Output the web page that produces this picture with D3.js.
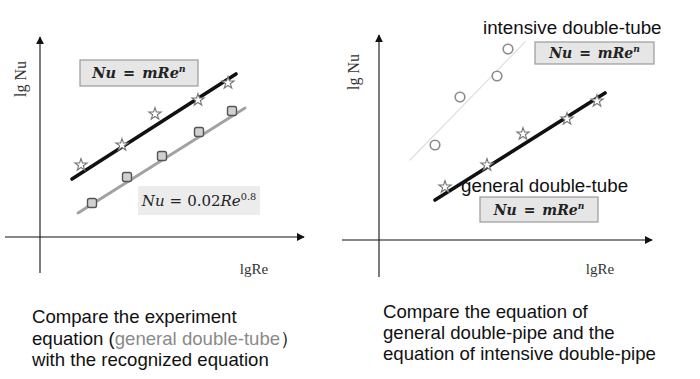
<!DOCTYPE html>
<html><head><meta charset="utf-8">
<script src="https://cdn.jsdelivr.net/npm/d3@7"></script>
<style>body{margin:0;background:#fff}svg{display:block}</style>
</head><body>
<svg id="c" width="700" height="379"></svg>
<script>
// ---- data (arbitrary lgRe / lgNu units) ----
const leftStarX   = [2.05, 4.1, 5.75, 7.9, 9.4];
const leftStarY   = [3.6, 4.6, 6.15, 6.85, 7.7];
const leftFitX    = [1.6, 9.8];
const leftFitY    = [2.9, 8.15];
const leftSquareX = [2.6, 4.35, 6.1, 7.95, 9.6];
const leftSquareY = [1.7, 3.0, 4.05, 5.25, 6.3];
const leftRefX    = [1.9, 10.25];
const leftRefY    = [1.2, 6.45];

const rightCircleX = [2.8, 4.05, 5.9, 6.45];
const rightCircleY = [4.75, 7.15, 8.2, 9.55];
const rightIntX    = [1.55, 7.3];
const rightIntY    = [4.0, 9.9];
const rightStarX   = [3.3, 5.4, 7.2, 9.4, 10.9];
const rightStarY   = [2.65, 3.75, 5.3, 6.05, 6.95];
const rightFitX    = [2.8, 11.3];
const rightFitY    = [2.0, 7.35];

const axisLabelX = "lgRe";
const axisLabelY = "lg Nu";
const captionLeft = ["Compare the experiment", ["equation (", "general double-tube", "）"], "with the recognized equation"];
const captionRight = ["Compare the equation of", "general double-pipe and the", "equation of intensive double-pipe"];

const svg = d3.select("#c");
const defs = svg.append("defs");
defs.append("marker").attr("id","arr").attr("viewBox","0 0 10 10").attr("refX",9).attr("refY",5)
  .attr("markerWidth",8).attr("markerHeight",8).attr("markerUnits","userSpaceOnUse").attr("orient","auto")
  .append("path").attr("d","M0,0L10,5L0,10z").attr("fill","#111");

const sans = "'Liberation Sans', Arial, sans-serif";
const serif = "'Liberation Serif', 'Times New Roman', serif";
const math = "'DejaVu Serif', serif";

function zip(a,b){return a.map((v,i)=>[v,b[i]]);}

function panel(x, y, xAxisEnds, yAxisEnds, labelYPos, labelXPos) {
  const g = svg.append("g");
  g.append("line").attr("x1",x(xAxisEnds[0])).attr("x2",x(xAxisEnds[1])).attr("y1",y(0)).attr("y2",y(0))
    .attr("stroke","#111").attr("stroke-width",1.1).attr("marker-end","url(#arr)");
  g.append("line").attr("x1",x(0)).attr("x2",x(0)).attr("y1",y(yAxisEnds[0])).attr("y2",y(yAxisEnds[1]))
    .attr("stroke","#111").attr("stroke-width",1.1).attr("marker-end","url(#arr)");
  g.append("text").attr("transform",`translate(${labelYPos[0]},${labelYPos[1]}) rotate(-90)`)
    .attr("text-anchor","middle").attr("dominant-baseline","central")
    .attr("font-family",serif).attr("font-size",16).attr("fill","#333").text(axisLabelY);
  g.append("text").attr("x",labelXPos[0]).attr("y",labelXPos[1])
    .attr("text-anchor","middle").attr("font-family",serif).attr("font-size",15).attr("fill","#333").text(axisLabelX);
  return g;
}

function fitLine(g, x, y, xs, ys, color, w) {
  g.append("path").datum(zip(xs,ys))
    .attr("d", d3.line().x(d=>x(d[0])).y(d=>y(d[1])))
    .attr("fill","none").attr("stroke",color).attr("stroke-width",w).attr("stroke-linecap","round");
}
function stars(g, x, y, xs, ys) {
  g.selectAll(null).data(zip(xs,ys)).join("path")
    .attr("transform", d=>`translate(${x(d[0])},${y(d[1])})`)
    .attr("d", d3.symbol().type(d3.symbolStar).size(46))
    .attr("fill","#fff").attr("stroke","#777").attr("stroke-width",1.1);
}

function mathBox(g, cx, cy, w, h, parts, opts) {
  g.append("rect").attr("x",cx-w/2).attr("y",cy-h/2).attr("width",w).attr("height",h)
    .attr("fill",opts.fill).attr("stroke",opts.stroke||"none").attr("stroke-width",1.2);
  const t = g.append("text").attr("x",cx).attr("y",cy+5).attr("text-anchor","middle")
    .attr("font-family",math).attr("font-size",opts.size).attr("font-weight",opts.weight).attr("fill","#222")
    .attr("xml:space","preserve");
  parts.forEach(p=>{
    const s = t.append("tspan").text(p.t);
    if (p.i) s.attr("font-style","italic");
    if (p.dx) s.attr("dx",p.dx);
    if (p.sup) s.attr("dy",-6).attr("font-size",opts.size*0.65);
  });
}
const eqMRe = [{t:"Nu",i:1},{t:"=",dx:7},{t:"mRe",i:1,dx:7},{t:"n",i:1,sup:1}];
const eqRef = [{t:"Nu",i:1},{t:"=",dx:5},{t:"0.02",dx:5},{t:"Re",i:1},{t:"0.8",sup:1}];

// ---- left panel ----
const xL = d3.scaleLinear().domain([0,12]).range([40,280]);
const yL = d3.scaleLinear().domain([0,10]).range([237,37]);
const gL = panel(xL, yL, [-1.75, 13.2], [-1.8, 10], [20,79], [254,274]);
fitLine(gL, xL, yL, leftRefX, leftRefY, "#a2a2a2", 3);
fitLine(gL, xL, yL, leftFitX, leftFitY, "#111", 3.6);
stars(gL, xL, yL, leftStarX, leftStarY);
gL.selectAll(null).data(zip(leftSquareX,leftSquareY)).join("rect")
  .attr("x",d=>xL(d[0])-4.5).attr("y",d=>yL(d[1])-4.5).attr("width",9).attr("height",9).attr("rx",2)
  .attr("fill","#d0d0d0").attr("stroke","#555").attr("stroke-width",1.4);
mathBox(gL, 139, 73, 118, 26, eqMRe, {fill:"#e6e6e6", stroke:"#9a9a9a", size:14.5, weight:"bold"});
mathBox(gL, 199, 200.5, 122, 29, eqRef, {fill:"#ececec", size:15, weight:"normal"});

// ---- right panel ----
const xR = d3.scaleLinear().domain([0,12]).range([379,619]);
const yR = d3.scaleLinear().domain([0,10]).range([240,40]);
const gR = panel(xR, yR, [-1.85, 13.65], [-1.85, 10.25], [353,72], [600,274]);
fitLine(gR, xR, yR, rightIntX, rightIntY, "#e0e0e0", 1.3);
fitLine(gR, xR, yR, rightFitX, rightFitY, "#111", 3.6);
gR.selectAll(null).data(zip(rightCircleX,rightCircleY)).join("circle")
  .attr("cx",d=>xR(d[0])).attr("cy",d=>yR(d[1])).attr("r",4.8)
  .attr("fill","#fff").attr("stroke","#8a8a8a").attr("stroke-width",1.6);
stars(gR, xR, yR, rightStarX, rightStarY);
gR.append("text").attr("x",483).attr("y",34).attr("font-family",sans).attr("font-size",18.8).attr("fill","#111").text("intensive double-tube");
mathBox(gR, 594.5, 53, 119, 22, eqMRe, {fill:"#e6e6e6", stroke:"#9a9a9a", size:14, weight:"bold"});
gR.append("text").attr("x",461).attr("y",192).attr("font-family",sans).attr("font-size",18.8).attr("fill","#111").text("general double-tube");
mathBox(gR, 539, 209.5, 118, 25, eqMRe, {fill:"#e6e6e6", stroke:"#9a9a9a", size:14, weight:"bold"});

// ---- captions ----
const capL = svg.append("g").attr("font-family",sans).attr("font-size",18.6).attr("fill","#111");
const baseL = [323, 344.5, 366];
captionLeft.forEach((line,i)=>{
  const t = capL.append("text").attr("x",32).attr("y",baseL[i]);
  if (Array.isArray(line)) {
    t.append("tspan").text(line[0]);
    t.append("tspan").attr("fill","#8a8a8a").text(line[1]);
    t.append("tspan").text(line[2]);
  } else t.text(line);
});
const capR = svg.append("g").attr("font-family",sans).attr("font-size",18.6).attr("fill","#111");
const baseR = [318, 339, 360];
captionRight.forEach((line,i)=>{
  capR.append("text").attr("x",383).attr("y",baseR[i]).text(line);
});
</script>
</body></html>
